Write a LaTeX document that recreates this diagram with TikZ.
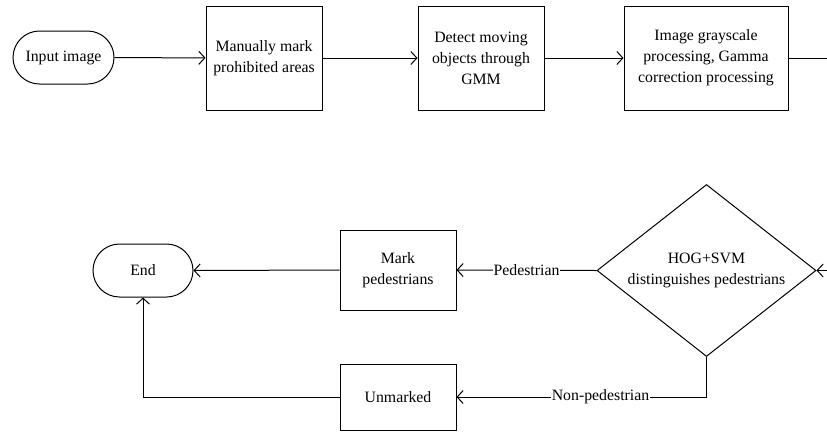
\documentclass[tikz,border=0pt]{standalone}
\usepackage{fontspec}
\setmainfont{Liberation Serif}
\usetikzlibrary{shapes.geometric,shapes.misc,arrows.meta}
\begin{document}
\begin{tikzpicture}[x=1pt,y=-1pt,
  font=\fontsize{15.8}{21}\selectfont,
  every node/.style={inner sep=0pt},
  box/.style={draw,line width=1pt,align=center},
  term/.style={draw,line width=1pt,rounded rectangle,align=center},
  dec/.style={draw,line width=1pt,diamond,aspect=1.27,align=center},
  conn/.style={line width=1pt},
  arr/.style={line width=1pt,-{Straight Barb[length=6pt,width=13pt]}},
  lab/.style={fill=white,inner sep=1pt}]
\useasboundingbox (0,0) rectangle (827,432);
\node[term,minimum width=101pt,minimum height=53pt] (in) at (63.5,57.5) {Input image};
\node[box,minimum width=116pt,minimum height=104pt] (b1) at (264,58) {Manually mark\\prohibited areas};
\node[box,minimum width=126pt,minimum height=104pt] (b2) at (481,58) {Detect moving\\objects through\\GMM};
\node[box,minimum width=164pt,minimum height=104pt] (b3) at (706,58) {Image grayscale\\processing, Gamma\\correction processing};
\node[dec,minimum width=219pt,minimum height=172pt] (d) at (706.5,270.5) {HOG+SVM\\distinguishes pedestrians};
\node[box,minimum width=116pt,minimum height=80pt] (mp) at (398,270) {Mark\\pedestrians};
\node[term,minimum width=100pt,minimum height=53pt] (end) at (143,270.5) {End};
\node[box,minimum width=116pt,minimum height=66pt] (un) at (398,397) {Unmarked};
\coordinate (r1) at (828,58);
\coordinate (r2) at (828,270.5);
\draw[arr] (in) -- (b1);
\draw[arr] (b1) -- (b2);
\draw[arr] (b2) -- (b3);
\draw[conn] (b3.east) -- (r1);
\draw[arr] (r2) -- (d.east);
\draw[arr] (d.west) -- node[lab]{Pedestrian} (mp.east);
\draw[arr] (mp.west) -- (end.east);
\draw[arr] (d.south) |- node[lab,pos=0.712]{Non-pedestrian} (un.east);
\draw[arr] (un.west) -| (end.south);
\end{tikzpicture}
\end{document}
